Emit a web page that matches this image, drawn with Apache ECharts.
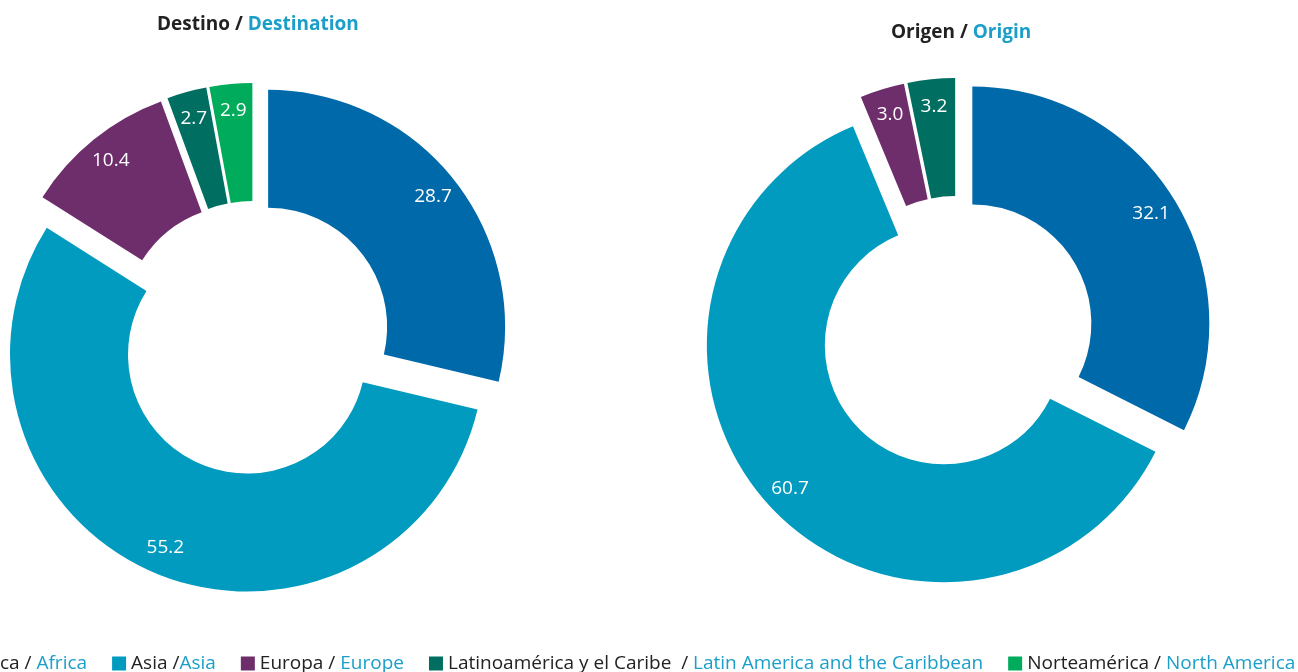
<!DOCTYPE html>
<html>
<head>
<meta charset="utf-8">
<script src="https://cdn.jsdelivr.net/npm/echarts@6/dist/echarts.min.js"></script>
<style>
  html, body { margin: 0; padding: 0; background: #fff; }
  #c { width: 1298px; height: 672px; }
</style>
</head>
<body>
<div id="c"></div>
<script>
// regiones
var regions = ['África', 'Asia', 'Europa', 'Latinoamérica y el Caribe', 'Norteamérica'];
var legendEs = ['África / ', 'Asia /', 'Europa / ', 'Latinoamérica y el Caribe  / ', 'Norteamérica / '];
var legendEn = ['Africa', 'Asia', 'Europe', 'Latin America and the Caribbean', 'North America'];
var colors = ['#0069a9', '#009bbf', '#6d2e6b', '#006f62', '#00ab5b'];

// porcentajes
var destino = [28.7, 55.2, 10.4, 2.7, 2.9];
var origen = [32.1, 60.7, 3.0, 3.2];

var font = '"Open Sans", "Noto Sans", sans-serif';
var blue = '#1b9fc9';
var dark = '#222222';

function toData(vals, transparent) {
    return vals.map(function (v, i) {
        return {
            name: regions[i],
            value: v,
            selected: true,
            itemStyle: { color: transparent ? 'transparent' : colors[i] }
        };
    });
}

function ring(center, vals) {
    return {
        type: 'pie',
        center: center,
        radius: [119, 237],
        startAngle: 90,
        clockwise: true,
        selectedMode: 'multiple',
        selectedOffset: 18,
        avoidLabelOverlap: false,
        silent: true,
        label: { show: false },
        labelLine: { show: false },
        emphasis: { disabled: true },
        data: toData(vals, false)
    };
}

// serie invisible solo para las etiquetas (más cerca del borde exterior)
function labels(center, vals) {
    return {
        type: 'pie',
        center: center,
        radius: [177, 237],
        startAngle: 90,
        clockwise: true,
        selectedMode: 'multiple',
        selectedOffset: 18,
        avoidLabelOverlap: false,
        silent: true,
        z: 5,
        label: {
            show: true,
            position: 'inside',
            color: '#fff',
            fontFamily: font,
            fontSize: 19,
            formatter: function (p) { return p.value.toFixed(1); }
        },
        labelLine: { show: false },
        emphasis: { disabled: true },
        data: toData(vals, true)
    };
}

var myChart = echarts.init(document.getElementById('c'));
var option = {
    animation: false,
    color: colors,
    title: [{
        text: '{a|Destino / }{b|Destination}',
        left: 152,
        top: 10,
        textStyle: {
            rich: {
                a: { fontFamily: font, fontSize: 19, fontWeight: 'bold', color: dark },
                b: { fontFamily: font, fontSize: 19, fontWeight: 'bold', color: blue }
            }
        }
    }, {
        text: '{a|Origen / }{b|Origin}',
        left: 886,
        top: 18,
        textStyle: {
            rich: {
                a: { fontFamily: font, fontSize: 19, fontWeight: 'bold', color: dark },
                b: { fontFamily: font, fontSize: 19, fontWeight: 'bold', color: blue }
            }
        }
    }],
    legend: {
        data: regions,
        icon: 'rect',
        itemWidth: 14,
        itemHeight: 14,
        itemGap: 25,
        left: -50,
        top: 654,
        width: 1600,
        padding: 0,
        selectedMode: false,
        formatter: function (name) {
            var i = regions.indexOf(name);
            return '{a|' + legendEs[i] + '}{b|' + legendEn[i] + '}';
        },
        textStyle: {
            rich: {
                a: { fontFamily: font, fontSize: 19, color: dark },
                b: { fontFamily: font, fontSize: 19, color: blue }
            }
        }
    },
    series: [
        ring([254, 338], destino),
        ring([957, 333], origen),
        labels([254, 338], destino),
        labels([957, 333], origen)
    ]
};
myChart.setOption(option);
</script>
</body>
</html>
